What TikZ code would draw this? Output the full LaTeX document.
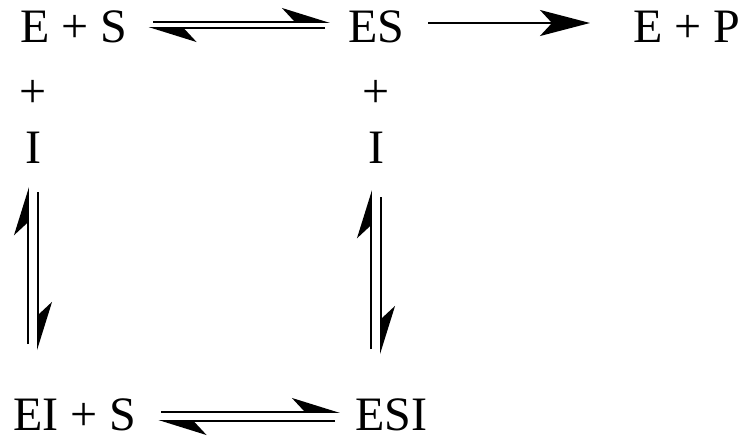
\documentclass[tikz,border=0pt]{standalone}
\usepackage{fontspec}
\setmainfont{Liberation Serif}
\usetikzlibrary{arrows.meta, calc}

\begin{document}
\begin{tikzpicture}[x=1pt, y=-1pt,
    species/.style={anchor=base west, inner sep=0pt, font=\fontsize{48}{50}\selectfont},
    extra/.style={anchor=base, inner sep=0pt, font=\fontsize{48}{50}\selectfont},
    eq/.style={line width=1.9pt, -{Stealth[harpoon, length=45pt, width=28pt, inset=13pt]}},
    fwd/.style={line width=1.9pt, -{Stealth[length=50pt, width=26pt, inset=12pt]}}]
\useasboundingbox (0,0) rectangle (745,440);
% top row
\node[species] (eS)   at (20,42)  {E + S};
\node[species] (cplx) at (348,42) {ES};
\node[species] (prod) at (633,42) {E + P};
% inhibitor
\node[extra] (plusA) at (33,107)  {+};
\node[extra] (inhA)  at (33,163)  {I};
\node[extra] (plusB) at (376,107) {+};
\node[extra] (inhB)  at (376,163) {I};
% bottom row
\node[species] (eiS) at (13,430)  {EI + S};
\node[species] (esi) at (355,430) {ESI};
% E + S <=> ES -> E + P
\draw[eq] ($(eS.base east)+(26,-20)$) -- ($(cplx.base west)+(-18,-20)$);
\draw[eq] ($(cplx.base west)+(-23,-14)$) -- ($(eS.base east)+(21,-14)$);
\draw[fwd] ($(cplx.base east)+(24,-19)$) -- ($(prod.base west)+(-43,-19)$);
% E + I <=> EI
\draw[eq] ($(inhA.south |- eiS.north)+(-5,-54)$) -- ($(inhA.south)+(-5,24)$);
\draw[eq] ($(inhA.south)+(5,29)$) -- ($(inhA.south |- eiS.north)+(5,-48)$);
% ES + I <=> ESI
\draw[eq] ($(inhB.south |- esi.north)+(-5,-49)$) -- ($(inhB.south)+(-5,27)$);
\draw[eq] ($(inhB.south)+(5,34)$) -- ($(inhB.south |- esi.north)+(5,-44)$);
% EI + S <=> ESI
\draw[eq] ($(eiS.base east)+(25,-18)$) -- ($(esi.base west)+(-15,-18)$);
\draw[eq] ($(esi.base west)+(-20,-9)$) -- ($(eiS.base east)+(22,-9)$);
\end{tikzpicture}
\end{document}
